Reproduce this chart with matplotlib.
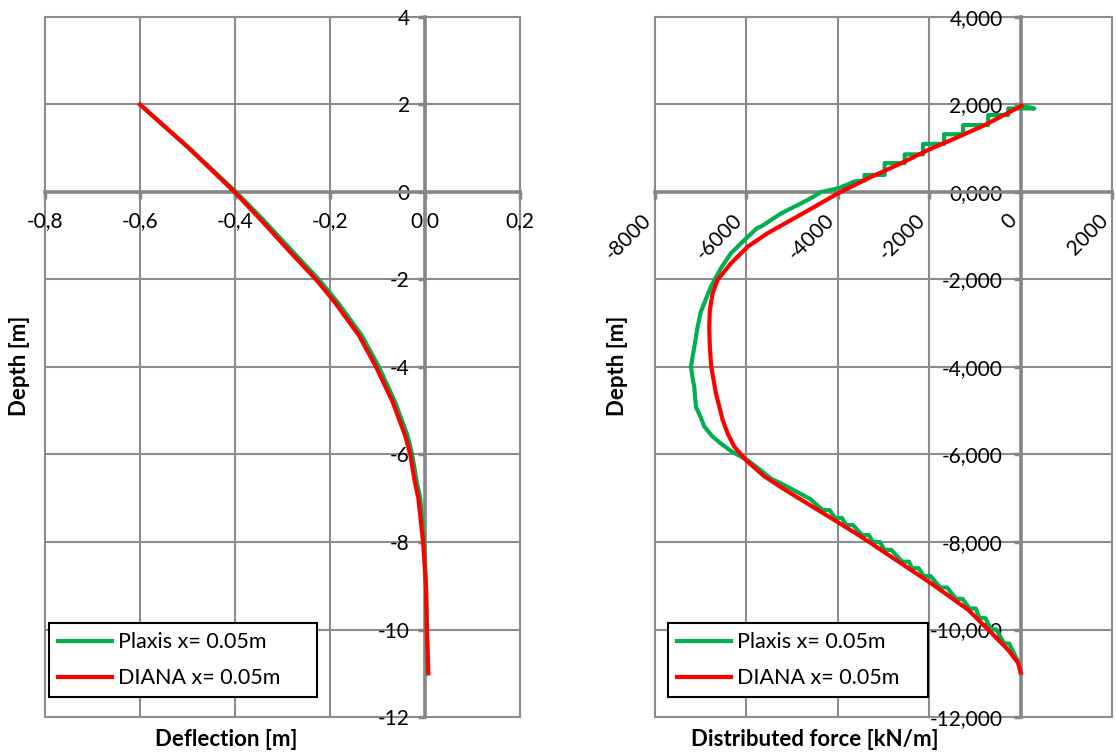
import matplotlib
matplotlib.use("Agg")
import matplotlib.pyplot as plt
from matplotlib.ticker import FixedLocator, FuncFormatter

plt.rcParams['font.family'] = ['Lato', 'DejaVu Sans']
plt.rcParams['axes.unicode_minus'] = False

# deflection [m] vs depth [m]
defl_depth = [2.0, 1.0, 0.0, -0.62, -1.38, -2.03, -2.52, -3.28, -4.0, -4.8,
              -5.56, -6.0, -6.59, -7.0, -8.0, -9.0, -10.0, -11.0]
defl_plaxis = [-0.600, -0.496, -0.398, -0.342, -0.277, -0.221, -0.184, -0.133, -0.097, -0.063,
               -0.037, -0.027, -0.018, -0.010, -0.002, 0.002, 0.004, 0.006]
defl_diana = [-0.600, -0.497, -0.401, -0.347, -0.283, -0.227, -0.190, -0.139, -0.103, -0.068,
              -0.042, -0.031, -0.022, -0.014, -0.004, 0.002, 0.004, 0.007]

# distributed force [kN/m] vs depth [m]
force_plaxis = [22, 300, -270, -270, -709, -709, -1257, -1257, -1674, -1674, -2134, -2134,
                -2536, -2536, -2975, -2975, -3414, -3414, -3640, -3900, -3760, -4100, -4364,
                -4656, -5241, -5680, -5760, -6046, -6338, -6557, -6776, -6922,
                -7000, -7067, -7140, -7213, -7170, -7140, -7104, -7000, -6922, -6750, -6557,
                -6339, -6120, -5974, -5700, -5464, -5246, -4900, -4600,
                -4330, -4180, -4060, -3910, -3820, -3670, -3470, -3320, -3230, -3080,
                -2980, -2830, -2590, -2440, -2380, -2230, -2120, -1970, -1760, -1610,
                -1410, -1270, -1120, -980, -900, -770, -650, -530, -360, -250, -73, 0]
depth_plaxis = [1.97, 1.91, 1.91, 1.76, 1.76, 1.53, 1.53, 1.32, 1.32, 1.10, 1.10, 0.86,
                0.86, 0.66, 0.66, 0.39, 0.39, 0.26, 0.24, 0.12, 0.15, 0.06, 0.0,
                -0.18, -0.49, -0.79, -0.82, -1.10, -1.40, -1.74, -2.16, -2.54,
                -2.75, -3.08, -3.54, -3.99, -4.30, -4.45, -4.91, -5.15, -5.36, -5.58, -5.75,
                -5.92, -6.05, -6.13, -6.35, -6.55, -6.66, -6.85, -7.02,
                -7.27, -7.27, -7.45, -7.45, -7.61, -7.61, -7.84, -7.84, -8.00, -8.00,
                -8.18, -8.18, -8.45, -8.45, -8.60, -8.60, -8.78, -8.78, -9.04, -9.04,
                -9.30, -9.30, -9.52, -9.52, -9.74, -9.74, -10.00, -10.00, -10.32, -10.32,
                -10.70, -10.96]
force_diana = [20, -783, -1513, -2024, -2610, -3340, -3998, -4511, -5022, -5533, -5972,
               -6338, -6630, -6740, -6800, -6813, -6800, -6770, -6667, -6520, -6410, -6265,
               -6009, -5607, -5150, -4072, -3487, -2800, -1952, -1147, -636, -270, -50, 0]
depth_diana = [1.97, 1.53, 1.19, 0.96, 0.66, 0.31, -0.03, -0.34, -0.64, -0.94, -1.25,
               -1.63, -2.01, -2.32, -2.70, -3.10, -3.54, -3.99, -4.60, -5.21, -5.52, -5.82,
               -6.13, -6.50, -6.81, -7.50, -7.88, -8.36, -8.95, -9.55, -10.08, -10.47, -10.77, -10.99]

labels = ['Plaxis x= 0.05m', 'DIANA x= 0.05m']
green = '#00B050'
red = '#FF0000'
grid_c = '#8c8c8c'
axis_c = '#868686'

fig = plt.figure(figsize=(11.16, 7.54), dpi=100)
W, H = 1116, 754
ax1 = fig.add_axes([45 / W, 1 - 717 / H, 475 / W, 700 / H])
ax2 = fig.add_axes([655 / W, 1 - 717 / H, 457 / W, 700 / H])


def style(ax, xt, yt, xfmt, yfmt):
    ax.set_xlim(xt[0], xt[-1])
    ax.set_ylim(yt[0], yt[-1])
    ax.xaxis.set_major_locator(FixedLocator(xt))
    ax.yaxis.set_major_locator(FixedLocator(yt))
    ax.xaxis.set_major_formatter(FuncFormatter(xfmt))
    ax.yaxis.set_major_formatter(FuncFormatter(yfmt))
    ax.grid(True, color=grid_c, linewidth=1.5)
    ax.set_axisbelow(True)
    for s in ['top', 'right']:
        ax.spines[s].set_visible(False)
    ax.spines['left'].set_position(('data', 0))
    ax.spines['bottom'].set_position(('data', 0))
    for s in ['left', 'bottom']:
        ax.spines[s].set_color(axis_c)
        ax.spines[s].set_linewidth(2.6)
    ax.tick_params(axis='both', direction='out', length=5, width=2.5, color=axis_c,
                   labelsize=15)
    for gl in ax.xaxis.get_gridlines() + ax.yaxis.get_gridlines():
        gl.set_clip_on(False)


style(ax1, [-0.8, -0.6, -0.4, -0.2, 0.0, 0.2], [-12, -10, -8, -6, -4, -2, 0, 2, 4],
      lambda v, p: ('%.1f' % (round(v, 1) + 0.0)).replace('.', ','),
      lambda v, p: '%d' % round(v))
ax1.tick_params(axis='x', pad=9)
ax1.tick_params(axis='y', pad=6)

ax1.plot(defl_plaxis, defl_depth, color=green, linewidth=3, zorder=3, label=labels[0])
ax1.plot(defl_diana, defl_depth, color=red, linewidth=3, zorder=4, label=labels[1])

style(ax2, [-8000, -6000, -4000, -2000, 0, 2000],
      [-12000, -10000, -8000, -6000, -4000, -2000, 0, 2000, 4000],
      lambda v, p: '%d' % round(v),
      lambda v, p: ('%.3f' % (v / 1000)).replace('.', ','))
ax2.tick_params(axis='x', pad=8)
ax2.tick_params(axis='y', pad=8)
for t in ax2.get_xticklabels():
    t.set_rotation(45)
    t.set_ha('right')
    t.set_va('top')

ax2.plot(force_plaxis, [d * 1000 for d in depth_plaxis], color=green, linewidth=3,
         zorder=3, label=labels[0])
ax2.plot(force_diana, [d * 1000 for d in depth_diana], color=red, linewidth=3,
         zorder=4, label=labels[1])

for ax, x0, w in [(ax1, 0.008, 0.565), (ax2, 0.028, 0.57)]:
    leg = ax.legend(loc='lower left', bbox_to_anchor=(x0, 0.028, w, 0.1), mode='expand',
                    fontsize=15.5, fancybox=False, framealpha=1, edgecolor='black',
                    borderpad=0.42, handlelength=2.5, handletextpad=0.3, labelspacing=0.75,
                    borderaxespad=0)
    leg.get_frame().set_linewidth(1.5)
    leg.set_zorder(5)

fig.text(20 / W, 0.515, 'Depth [m]', rotation=90, ha='center', va='center',
         fontsize=16, fontweight='bold')
fig.text(617 / W, 0.515, 'Depth [m]', rotation=90, ha='center', va='center',
         fontsize=16, fontweight='bold')
fig.text(226 / W, 1 - 739 / H, 'Deflection [m]', ha='center', va='center',
         fontsize=16, fontweight='bold')
fig.text(815 / W, 1 - 739 / H, 'Distributed force [kN/m]', ha='center', va='center',
         fontsize=16, fontweight='bold')

fig.savefig('out.png', dpi=100)
